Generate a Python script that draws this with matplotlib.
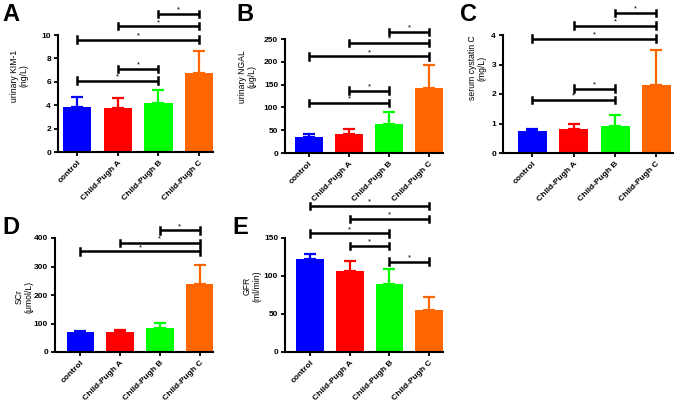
import numpy as np
import matplotlib
matplotlib.use("Agg")
import matplotlib.pyplot as plt

plt.rcParams['font.family'] = ['Liberation Sans', 'DejaVu Sans']

# ---- data ----
groups = ['control', 'Child-Pugh A', 'Child-Pugh B', 'Child-Pugh C']
colors = ['#0000FF', '#FF0000', '#00FF00', '#FF6600']

kim_mean = [3.85, 3.75, 4.15, 6.75]
kim_sd = [0.85, 0.85, 1.15, 1.85]
kim_sig = [(0, 2, 6.1), (1, 2, 7.1), (0, 3, 9.6), (1, 3, 10.75), (2, 3, 11.8)]

ngal_mean = [34, 41, 63, 142]
ngal_sd = [8, 11, 28, 51]
ngal_sig = [(0, 2, 110), (1, 2, 137), (0, 3, 212), (1, 3, 241), (2, 3, 266)]

cys_mean = [0.73, 0.82, 0.93, 2.32]
cys_sd = [0.07, 0.18, 0.36, 1.18]
cys_sig = [(0, 2, 1.79), (1, 2, 2.18), (0, 3, 3.88), (1, 3, 4.32), (2, 3, 4.74)]

scr_mean = [70, 70, 83, 240]
scr_sd = [5, 8, 19, 66]
scr_sig = [(0, 3, 353), (1, 3, 382), (2, 3, 427)]

gfr_mean = [123, 106, 89, 55]
gfr_sd = [6, 14, 20, 17]
gfr_sig = [(2, 3, 119), (1, 2, 139.5), (0, 2, 156), (1, 3, 175), (0, 3, 192.5)]

W, H = 685, 401
fig = plt.figure(figsize=(W / 100, H / 100), dpi=100)


def panel(letter, rect_px, xlim, ylim, yticks, mean, sd, sig, ylabel, ylab_xy, letter_xy):
    x0, y0, x1, y1 = rect_px  # left, top, right, bottom in pixels
    ax = fig.add_axes([x0 / W, (H - y1) / H, (x1 - x0) / W, (y1 - y0) / H])
    x = np.arange(len(groups))
    ax.bar(x, mean, 0.7, color=colors, zorder=2)
    for xi, m, s, c in zip(x, mean, sd, colors):
        ax.errorbar(xi, m, yerr=[[0], [s]], color=c, capsize=4.5, elinewidth=1.6,
                    capthick=1.6, zorder=1)
    ax.set_xlim(*xlim)
    ax.set_ylim(*ylim)
    ax.set_yticks(yticks)
    ax.set_yticklabels([str(t) for t in yticks], fontsize=6, fontweight='bold')
    ax.set_xticks(x)
    ax.set_xticklabels(groups, rotation=45, ha='right', rotation_mode='anchor',
                       fontsize=6, fontweight='bold')
    ax.tick_params(length=3, width=1.3, pad=2)
    for s in ['top', 'right']:
        ax.spines[s].set_visible(False)
    for s in ['left', 'bottom']:
        ax.spines[s].set_linewidth(1.5)
    # brackets
    span = ylim[1] - ylim[0]
    d = 3.2 * span / (y1 - y0)
    for i, j, y in sig:
        ax.plot([i, j], [y, y], color='black', lw=1.8, clip_on=False, solid_capstyle='butt')
        for e in (i, j):
            ax.plot([e, e], [y - d, y + d], color='black', lw=1.8, clip_on=False)
        ax.text((i + j) / 2, y + d * 0.1, '*', ha='center', va='bottom', fontsize=5.5,
                clip_on=False)
    fig.text(ylab_xy[0] / W, 1 - ylab_xy[1] / H, ylabel, rotation=90, ha='center',
             va='center', fontsize=6.2, linespacing=1.1)
    fig.text(letter_xy[0] / W, 1 - letter_xy[1] / H, letter, fontsize=17,
             fontweight='bold', ha='left', va='top')
    return ax


panel('A', (58, 35, 213, 152), (-0.47, 3.34), (0, 10), [0, 2, 4, 6, 8, 10],
      kim_mean, kim_sd, kim_sig, 'urinary KIM-1\n(ng/L)', (19, 76), (2, 3))
panel('B', (285, 39, 443, 153), (-0.6, 3.35), (0, 250), [0, 50, 100, 150, 200, 250],
      ngal_mean, ngal_sd, ngal_sig, 'urinary NGAL\n(\u03bcg/L)', (247, 77), (236, 3))
panel('C', (503, 35, 673, 153), (-0.71, 3.4), (0, 4), [0, 1, 2, 3, 4],
      cys_mean, cys_sd, cys_sig, 'serum cystatin C\n(mg/L)', (477, 68), (460, 3))
panel('D', (55, 238, 213, 352), (-0.64, 3.34), (0, 400), [0, 100, 200, 300, 400],
      scr_mean, scr_sd, scr_sig, 'SCr\n(\u03bcmol/L)', (24, 297), (2, 216))
panel('E', (285, 238, 443, 352), (-0.63, 3.35), (0, 150), [0, 50, 100, 150],
      gfr_mean, gfr_sd, gfr_sig, 'GFR\n(ml/min)', (252, 286), (232, 216))

fig.savefig('out.png', dpi=100)
